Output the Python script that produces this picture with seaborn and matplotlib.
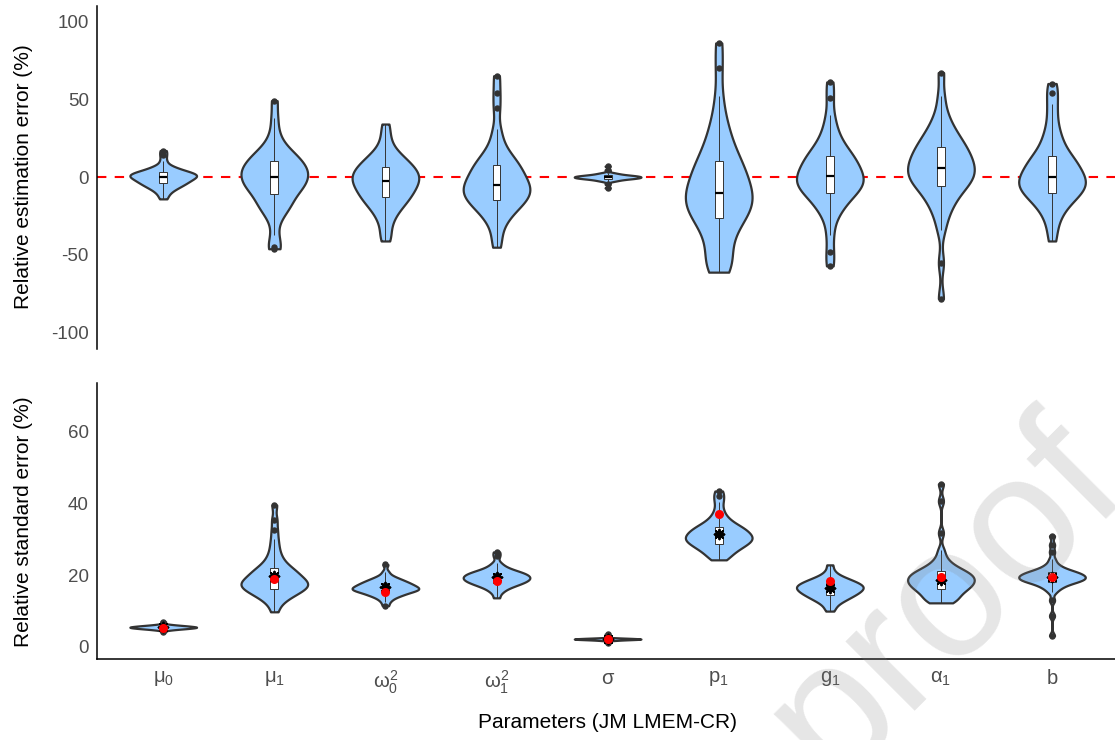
import numpy as np
import pandas as pd
import matplotlib
matplotlib.use("Agg")
import matplotlib.pyplot as plt
import seaborn as sns

# ---------------- data ----------------
params = ["mu0", "mu1", "w0", "w1", "sigma", "p1", "g1", "a1", "b"]
tick_labels = [r"$\mu_0$", r"$\mu_1$", r"$\omega_0^2$", r"$\omega_1^2$", r"$\sigma$",
               r"$p_1$", r"$g_1$", r"$\alpha_1$", r"$b$"]

# relative estimation error (%) - values read from the violins / boxes
err_mu0 = [-14, -11.6, -9.8, -8.6, -7.6, -6.8, -6.2, -5.6, -5, -4.5, -4, -3.6, -3.1, -2.7, -2.3, -1.9, -1.5, -1.1, -0.8, -0.4, 0, 0.3, 0.6, 0.8, 1.1, 1.4, 1.7, 2.0, 2.3, 2.7, 3, 3.4, 3.8, 4.2, 5.0, 5.7, 6.4, 7.6, 10.5, 14, 17]
err_mu1 = [-46, -45, -37, -28, -23.5, -20.9, -18.8, -16.9, -15.3, -13.8, -11, -9.8, -8.6, -7.4, -6.3, -5.2, -4.1, -3.1, -2.1, -1.0, 0, 0.9, 1.9, 2.8, 3.75, 4.7, 5.7, 6.7, 7.8, 8.9, 10, 11.2, 12.5, 13.9, 15.4, 17.1, 19.5, 23, 29, 38, 49]
err_w0 = [-41, -36, -30, -26, -23, -20.5, -18.7, -17.1, -15.6, -14.3, -13, -11.8, -10.7, -9.5, -8.5, -7.4, -6.4, -5.4, -4.5, -3.4, -2.5, -1.7, -0.8, 0.0, 0.9, 1.7, 2.6, 3.5, 4.5, 5.5, 6.5, 7.6, 8.75, 10, 11.4, 12.9, 14.6, 17, 21, 27, 34]
err_w1 = [-45, -38, -31, -27.5, -24.5, -22.1, -20.4, -18.9, -17.5, -16.2, -15, -13.9, -12.8, -11.7, -10.7, -9.7, -8.75, -7.8, -6.9, -5.9, -5, -3.8, -2.5, -1.4, -0.1, 1.1, 2.4, 3.7, 5.1, 6.6, 8, 9.6, 11.25, 13.1, 15.5, 19, 24, 31, 44, 54, 65]
err_sigma = [-7, -4.5, -2.9, -2.44, -2.14, -1.9, -1.65, -1.4, -1.25, -1.12, -1, -0.89, -0.78, -0.67, -0.57, -0.47, -0.375, -0.28, -0.19, -0.09, 0, 0.09, 0.19, 0.28, 0.375, 0.47, 0.57, 0.67, 0.78, 0.89, 1, 1.12, 1.25, 1.4, 1.65, 1.9, 2.14, 2.44, 2.9, 4.5, 7]
err_p1 = [-61, -59, -56, -52, -47, -42, -37.5, -34, -31, -28.5, -26, -24.2, -22.5, -20.7, -19.1, -17.5, -16, -14.5, -13, -11.4, -10, -8.2, -6.2, -4.4, -2.5, -0.6, 1.4, 3.4, 5.6, 7.8, 10, 12.5, 15.5, 19, 23, 27.5, 33, 40, 52, 70, 86]
err_g1 = [-57, -48, -37, -28, -23, -19.8, -17.3, -15.2, -13.3, -11.6, -10, -8.8, -7.7, -6.5, -5.4, -4.4, -3.4, -2.4, -1.4, -0.4, 0.6, 1.8, 3.0, 4.2, 5.4, 6.7, 8.0, 9.2, 10.7, 12.1, 13.5, 15, 16.7, 18.8, 21.3, 24.3, 28, 33, 40, 51, 61]
err_a1 = [-78, -55, -34, -26, -21, -17.5, -14.5, -12, -9.7, -7.7, -6, -4.7, -3.4, -2.0, -0.8, 0.4, 1.5, 2.6, 3.7, 4.9, 6, 7.2, 8.6, 9.8, 11.1, 12.3, 13.7, 15, 16.5, 18, 19.5, 21.1, 22.9, 24.8, 27, 29.5, 32.5, 36.5, 42, 52, 67]
err_b = [-41, -33, -27, -23, -20, -17.6, -15.6, -13.9, -12.5, -11.2, -10, -8.9, -7.8, -6.7, -5.7, -4.7, -3.75, -2.8, -1.9, -0.9, 0, 1.2, 2.6, 3.8, 5.1, 6.3, 7.7, 9.0, 10.5, 12, 13.5, 15.1, 18, 21, 24, 28, 33, 40, 47, 54, 60]

# relative standard error (%)
se_mu0 = [4.2, 4.63, 4.77, 4.86, 4.93, 4.99, 5.04, 5.08, 5.13, 5.16, 5.2, 5.23, 5.27, 5.3, 5.33, 5.36, 5.39, 5.42, 5.44, 5.47, 5.5, 5.53, 5.56, 5.58, 5.61, 5.64, 5.67, 5.7, 5.73, 5.77, 5.8, 5.84, 5.88, 5.92, 5.96, 6.01, 6.07, 6.14, 6.23, 6.37, 7.0]
se_mu1 = [9.8, 11.8, 12.9, 13.6, 14.1, 14.6, 15, 15.3, 15.6, 15.9, 16.2, 16.45, 16.7, 16.95, 17.2, 17.4, 17.6, 17.85, 18.05, 18.3, 18.5, 18.8, 19.2, 19.5, 19.8, 20.1, 20.5, 20.85, 21.2, 21.6, 22, 22.5, 23.2, 24, 25, 26.3, 28, 30, 32.5, 35.5, 39.6]
se_w0 = [11.5, 12.6, 13.3, 13.8, 14.15, 14.4, 14.6, 14.8, 15.0, 15.2, 15.4, 15.52, 15.64, 15.76, 15.87, 15.98, 16.09, 16.19, 16.29, 16.4, 16.5, 16.63, 16.77, 16.89, 17.03, 17.16, 17.3, 17.44, 17.59, 17.75, 17.9, 18.07, 18.25, 18.45, 18.66, 18.9, 19.16, 19.5, 20, 21, 23]
se_w1 = [13.7, 15.0, 15.7, 16.2, 16.6, 16.9, 17.1, 17.35, 17.55, 17.73, 17.9, 18.05, 18.2, 18.36, 18.5, 18.64, 18.78, 18.9, 19.03, 19.17, 19.3, 19.43, 19.57, 19.7, 19.83, 19.96, 20.1, 20.24, 20.4, 20.55, 20.7, 20.87, 21.05, 21.25, 21.5, 21.8, 22.2, 22.7, 23.5, 25.3, 26.5]
se_sigma = [1.1, 1.6, 1.76, 1.83, 1.88, 1.92, 1.95, 1.98, 2.0, 2.03, 2.05, 2.07, 2.08, 2.1, 2.11, 2.13, 2.14, 2.16, 2.17, 2.19, 2.2, 2.21, 2.23, 2.24, 2.26, 2.27, 2.29, 2.3, 2.32, 2.33, 2.35, 2.37, 2.39, 2.41, 2.43, 2.46, 2.49, 2.52, 2.6, 2.9, 3.6]
se_p1 = [24.3, 24.9, 25.6, 26.2, 26.7, 27.1, 27.5, 27.8, 28.15, 28.4, 28.7, 28.94, 29.18, 29.43, 29.65, 29.87, 30.08, 30.28, 30.48, 30.7, 30.9, 31.13, 31.39, 31.63, 31.88, 32.12, 32.38, 32.64, 32.93, 33.21, 33.5, 33.8, 34.2, 34.7, 35.3, 36, 37, 38.5, 40.5, 42, 43.5]
se_g1 = [10, 11.06, 11.9, 12.45, 12.9, 13.2, 13.5, 13.8, 14.05, 14.28, 14.5, 14.7, 14.9, 15.1, 15.27, 15.45, 15.63, 15.8, 15.96, 16.14, 16.3, 16.44, 16.6, 16.75, 16.9, 17.05, 17.21, 17.37, 17.55, 17.72, 17.9, 18.09, 18.3, 18.52, 18.76, 19.04, 19.34, 19.72, 20.3, 21.3, 22.9]
se_a1 = [12.3, 12.5, 12.9, 13.4, 13.9, 14.4, 14.8, 15.2, 15.6, 15.9, 16.2, 16.48, 16.75, 17.03, 17.28, 17.53, 17.76, 18, 18.23, 18.48, 18.7, 18.93, 19.18, 19.4, 19.64, 19.88, 20.13, 20.38, 20.65, 20.93, 21.2, 21.5, 21.9, 22.4, 23, 23.8, 25, 27, 31.8, 40.7, 45.5]
se_b = [3.1, 8.7, 13, 15.2, 16.1, 16.6, 17, 17.35, 17.65, 17.9, 18.1, 18.25, 18.4, 18.56, 18.7, 18.84, 18.98, 19.1, 19.23, 19.37, 19.5, 19.64, 19.79, 19.92, 20.06, 20.2, 20.36, 20.5, 20.67, 20.84, 21, 21.2, 21.45, 21.75, 22.1, 22.6, 23.3, 24.5, 26.5, 28.5, 31]

# red dots and black asterisks on the standard-error panel
se_red = [5.3, 19.0, 15.4, 18.4, 2.2, 37.1, 18.4, 19.5, 19.5]
se_star = [5.5, 19.8, 16.7, 19.5, 2.2, 31.5, 16.5, 18.7, 19.5]

err_lists = [err_mu0, err_mu1, err_w0, err_w1, err_sigma, err_p1, err_g1, err_a1, err_b]
se_lists = [se_mu0, se_mu1, se_w0, se_w1, se_sigma, se_p1, se_g1, se_a1, se_b]

df_err = pd.DataFrame([(p, v) for p, vals in zip(params, err_lists) for v in vals], columns=["param", "value"])
df_se = pd.DataFrame([(p, v) for p, vals in zip(params, se_lists) for v in vals], columns=["param", "value"])
df_pts = pd.DataFrame({"param": params, "red": se_red, "star": se_star})

# ---------------- style ----------------
sns.set_style("white")
plt.rcParams["font.family"] = ["Liberation Sans", "DejaVu Sans"]
plt.rcParams["mathtext.fontset"] = "custom"
plt.rcParams["mathtext.rm"] = "Liberation Sans"
plt.rcParams["mathtext.it"] = "Liberation Sans"
plt.rcParams["mathtext.bf"] = "Liberation Sans:bold"
plt.rcParams["axes.unicode_minus"] = False

FILL = "#99CCFF"
DARK = "#333333"
TICKC = "#4D4D4D"
BW_C = 0.35   # kernel width relative to the robust spread of each violin

fig = plt.figure(figsize=(11.15, 7.4), dpi=100)
ax1 = fig.add_axes([0.0866, 0.529, 0.9167, 0.4635])
ax2 = fig.add_axes([0.0866, 0.1088, 0.9167, 0.373])

bkw = dict(x="param", y="value", order=params, width=0.07, color="white", linecolor=DARK,
           linewidth=0.7, showcaps=False, fliersize=3.6, saturation=1,
           flierprops=dict(marker="o", markerfacecolor=DARK, markeredgecolor=DARK),
           medianprops=dict(color="black", linewidth=1.6))


def draw_violins(ax, df):
    for p in params:
        sub = df[df["param"] == p]
        v = sub["value"].to_numpy()
        q1, q3 = np.percentile(v, [25, 75])
        factor = BW_C * ((q3 - q1) / 1.349) / np.std(v, ddof=1)
        sns.violinplot(data=sub, x="param", y="value", order=params, ax=ax, color=FILL,
                       linecolor=DARK, linewidth=1.6, inner=None, density_norm="width",
                       width=0.6, cut=0, bw_method=factor, saturation=1)


ax1.axhline(0, color="red", lw=1.5, ls=(0, (4.5, 4)), zorder=0.5)
draw_violins(ax1, df_err)
sns.boxplot(data=df_err, ax=ax1, **bkw)

draw_violins(ax2, df_se)
sns.boxplot(data=df_se, ax=ax2, **bkw)
sns.stripplot(data=df_pts, x="param", y="star", order=params, ax=ax2, jitter=False,
              marker=(8, 2, 0), color="black", size=7, linewidth=1.4, zorder=5)
sns.stripplot(data=df_pts, x="param", y="red", order=params, ax=ax2, jitter=False,
              marker="o", color="red", size=6.5, linewidth=0, zorder=6)

for ax in (ax1, ax2):
    ax.set_xlim(-0.6, 8.6)
    for s in ("top", "right"):
        ax.spines[s].set_visible(False)
    ax.spines["left"].set_color("black")
    ax.spines["left"].set_linewidth(1.1)
    ax.tick_params(axis="y", colors=DARK, labelcolor=TICKC, labelsize=13.5, length=3.5, width=1.0, pad=2)
    ax.grid(False)

ax1.spines["bottom"].set_visible(False)
ax1.tick_params(axis="x", bottom=False, labelbottom=False)
ax1.set_ylim(-110, 110)
ax1.set_yticks([-100, -50, 0, 50, 100])
ax1.set_xlabel("")
ax1.set_ylabel("Relative estimation error (%)", fontsize=15, color="black")
ax1.yaxis.set_label_coords(-0.062, 0.5)

ax2.spines["bottom"].set_color("black")
ax2.spines["bottom"].set_linewidth(1.1)
ax2.set_ylim(-3.5, 73.5)
ax2.set_yticks([0, 20, 40, 60])
ax2.set_xticks(range(len(params)))
ax2.set_xticklabels(tick_labels)
ax2.tick_params(axis="x", colors=DARK, labelcolor=TICKC, labelsize=14.5, length=3.5, width=1.0, pad=3)
ax2.set_ylabel("Relative standard error (%)", fontsize=15, color="black")
ax2.yaxis.set_label_coords(-0.062, 0.5)
ax2.set_xlabel("Parameters (JM LMEM-CR)", fontsize=15, color="black", labelpad=12)

# watermark
fig.text(0.848, 0.189, "proof", fontsize=133, color="#808080", alpha=0.2,
         rotation=45, ha="center", va="center", zorder=20)

fig.savefig("out.png", dpi=100)
